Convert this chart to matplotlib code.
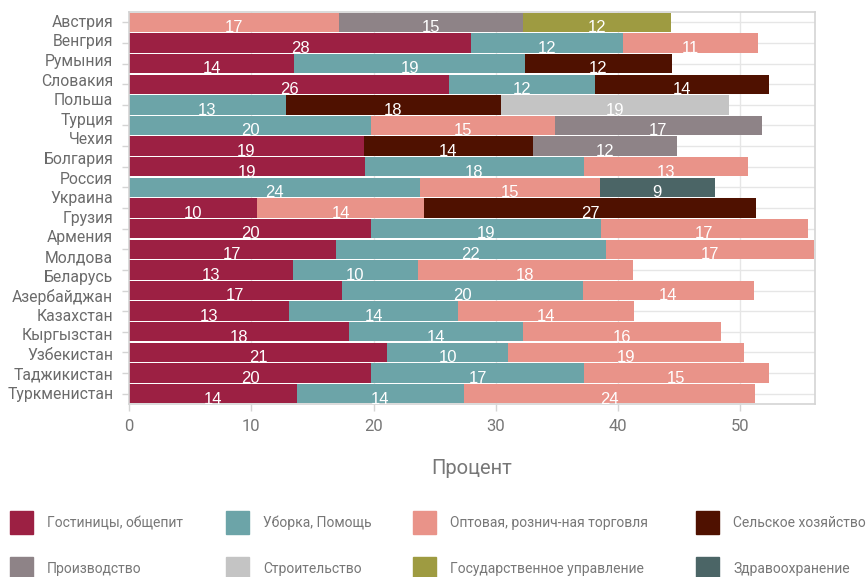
import numpy as np
import matplotlib
matplotlib.use("Agg")
import matplotlib.pyplot as plt
from matplotlib.patches import Rectangle
from matplotlib.transforms import blended_transform_factory

# category labels (20 labels on the axis, 19 bar rows drawn)
countries = ["Австрия", "Венгрия", "Румыния", "Словакия", "Польша", "Турция",
             "Чехия", "Болгария", "Россия", "Украина", "Грузия", "Армения",
             "Молдова", "Беларусь", "Азербайджан", "Казахстан", "Кыргызстан",
             "Узбекистан", "Таджикистан", "Туркменистан"]

sectors = ["Гостиницы, общепит", "Уборка, Помощь", "Оптовая, рознич-ная торговля",
           "Сельское хозяйство", "Производство", "Строительство",
           "Государственное управление", "Здравоохранение"]
colors = ["#9c2043", "#6ca4a8", "#e99389", "#4f1100",
          "#8e8387", "#c4c4c4", "#9e9b41", "#4b6566"]

hotels = [0, 28.0, 13.5, 26.2, 0, 0, 19.2, 19.3, 0, 10.5, 19.8, 16.9, 13.4, 17.4, 13.1, 18.0, 21.1, 19.8, 13.7]
cleaning = [0, 12.4, 18.9, 11.9, 12.8, 19.8, 0, 17.9, 23.8, 0, 18.8, 22.1, 10.2, 19.7, 13.8, 14.2, 9.9, 17.4, 13.7]
trade = [17.2, 11.0, 0, 0, 0, 15.0, 0, 13.4, 14.7, 13.6, 16.9, 17.0, 17.6, 14.0, 14.4, 16.2, 19.3, 15.1, 23.8]
agri = [0, 0, 12.0, 14.2, 17.6, 0, 13.8, 0, 0, 27.2, 0, 0, 0, 0, 0, 0, 0, 0, 0]
manuf = [15.0, 0, 0, 0, 0, 17.0, 11.8, 0, 0, 0, 0, 0, 0, 0, 0, 0, 0, 0, 0]
constr = [0, 0, 0, 0, 18.7, 0, 0, 0, 0, 0, 0, 0, 0, 0, 0, 0, 0, 0, 0]
gov = [12.1, 0, 0, 0, 0, 0, 0, 0, 0, 0, 0, 0, 0, 0, 0, 0, 0, 0, 0]
health = [0, 0, 0, 0, 0, 0, 0, 0, 9.4, 0, 0, 0, 0, 0, 0, 0, 0, 0, 0]

series = [hotels, cleaning, trade, agri, manuf, constr, gov, health]

LABEL_FONT = ["Roboto", "DejaVu Sans"]

fig = plt.figure(figsize=(8.68, 5.77), dpi=100)
ax = fig.add_axes([129/868, 1 - 404/577, 686/868, 392/577])

n = len(hotels)
y = np.arange(n)
left = np.zeros(n)
for vals, col in zip(series, colors):
    vals = np.array(vals)
    ax.barh(y, vals, left=left, height=0.94, color=col, zorder=2)
    for yi, (l, v) in enumerate(zip(left, vals)):
        if v > 0:
            ax.text(l + v / 2, yi + 0.26, str(int(round(v))), ha="center", va="center",
                    color="white", fontsize=12, family=["Liberation Sans", "DejaVu Sans"], zorder=3)
    left = left + vals

ax.set_xlim(0, 56.1)
ax.set_ylim(n - 0.5, -0.5)
ax.set_xticks(range(0, 60, 10))
ax.set_yticks(y)
ax.set_yticklabels([])
ax.grid(True, color="#e6e6e6", linewidth=1, zorder=0)
ax.set_axisbelow(True)
for s in ax.spines.values():
    s.set_color("#d4d4d4")
    s.set_linewidth(1.2)
ax.tick_params(axis="both", color="#d4d4d4", length=5, width=1)
ax.tick_params(axis="x", labelsize=12, labelcolor="#777777", pad=6)
for lab in ax.get_xticklabels():
    lab.set_family(LABEL_FONT)

# the category labels sit on their own evenly spaced positions
tr = blended_transform_factory(ax.transAxes, ax.transData)
label_pos = np.linspace(0, 18.05, len(countries))
for name, p in zip(countries, label_pos):
    ax.text(-0.023, p, name, transform=tr, ha="right", va="center",
            fontsize=11.3, color="#6b6b6b", family=LABEL_FONT)

ax.set_xlabel("Процент", fontsize=14.5, color="#777777", family=LABEL_FONT, labelpad=18)

# legend
leg_x = [10, 226, 413, 696]
leg_y = [511, 557]
for i, (name, col) in enumerate(zip(sectors, colors)):
    cx = leg_x[i % 4]
    cy = leg_y[i // 4]
    fig.patches.append(Rectangle((cx / 868, 1 - (cy + 23) / 577), 23 / 868, 23 / 577,
                                 transform=fig.transFigure, color=col))
    fig.text((cx + 37) / 868, 1 - (cy + 12) / 577, name, ha="left", va="center",
             fontsize=10, color="#777777", family=LABEL_FONT)

fig.savefig("out.png", dpi=100)
